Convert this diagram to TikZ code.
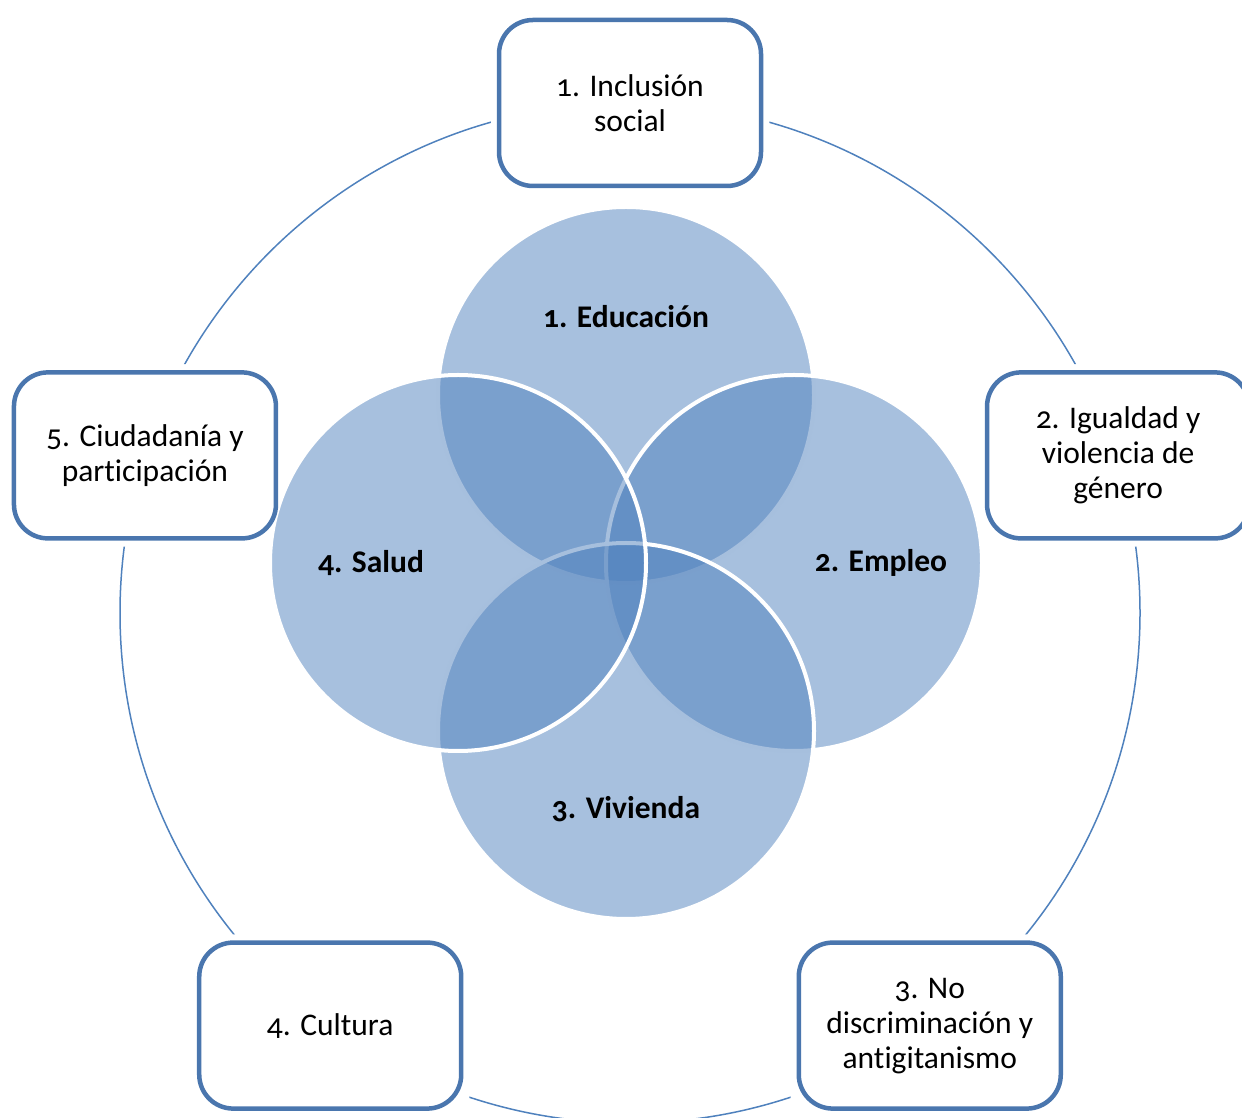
\documentclass[tikz,border=0pt]{standalone}
\usepackage{fontspec}
\setmainfont{Carlito}[Numbers=OldStyle,Ligatures=NoCommon]
\usetikzlibrary{positioning}
\definecolor{ringblue}{RGB}{79,129,189}
\definecolor{boxblue}{RGB}{74,118,174}
\definecolor{vennblue}{RGB}{79,129,189}
\tikzset{
  areabox/.style={draw=boxblue, line width=4.5pt, fill=white, rounded corners=34pt,
    minimum width=262pt, minimum height=166pt, inner sep=0pt, align=center,
    font=\fontsize{31.5}{35}\selectfont},
  venn/.style={circle, draw=white, line width=4pt, fill=vennblue, fill opacity=0.5,
    draw opacity=1, minimum size=376pt, inner sep=0pt},
  vennlabel/.style={font=\fontsize{31.5}{35}\selectfont\bfseries},
  ring/.style={draw=ringblue, line width=1.5pt},
}
\begin{document}
\begin{tikzpicture}[x=1pt,y=1pt]
  \useasboundingbox (0,0) rectangle (1242,1117);
  % four areas
  \begin{scope}[shift={(626,554)}]
    \node[venn] (edu) at (90:168) {};
    \node[venn] (emp) at (0:168) {};
    \node[venn] (viv) at (-90:168) {};
    \node[venn] (sal) at (180:168) {};
    \node[vennlabel] (edul) at (90:246) {1. Educación};
    \node[vennlabel] (empl) at (0:255) {2. Empleo};
    \node[vennlabel] (vivl) at (-90:246) {3. Vivienda};
    \node[vennlabel] (sall) at (180:255) {4. Salud};
  \end{scope}
  % five lines round them
  \begin{scope}[shift={(630,504)}]
    \node[areabox] (b1) at (90:510) {1. Inclusión\\social};
    \node[areabox, xshift=3pt] (b2) at (18:510) {2. Igualdad y\\violencia de\\género};
    \node[areabox] (b3) at (-54:510) {3. No\\discriminación y\\antigitanismo};
    \node[areabox] (b4) at (-126:510) {4. Cultura};
    \node[areabox] (b5) at (162:510) {5. Ciudadanía y\\participación};
    \begin{scope}[even odd rule]
      \clip (-700,-600) rectangle (700,700)
        foreach \b in {b1,b2,b3,b4,b5}{
          ([shift={(-6pt,-6pt)}]\b.south west) rectangle ([shift={(6pt,6pt)}]\b.north east)};
      \draw[ring] (0,0) circle[radius=510];
    \end{scope}
  \end{scope}
\end{tikzpicture}
\end{document}
